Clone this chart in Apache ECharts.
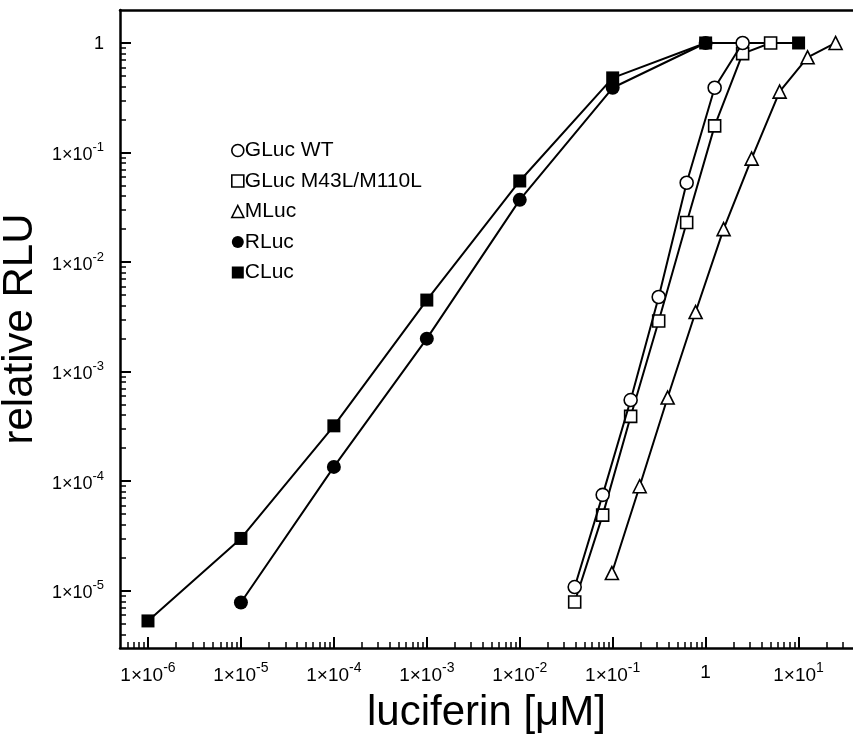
<!DOCTYPE html>
<html>
<head>
<meta charset="utf-8">
<script src="https://cdn.jsdelivr.net/npm/echarts@6/dist/echarts.min.js"></script>
<style>
  html, body { margin: 0; padding: 0; background: #fff; }
  #chart { width: 853px; height: 737px; }
</style>
</head>
<body>
<div id="chart"></div>
<script>
// axis extents (real units)
const X_MIN = 5e-7
const X_MAX = 38.5
const Y_MIN = 3e-6
const Y_MAX = 2

// major tick exponents
const xMajor = [-6, -5, -4, -3, -2, -1, 0, 1]
const yMajor = [-5, -4, -3, -2, -1, 0]

// GLuc WT (open circle)
const gwtX = [0.039, 0.078, 0.156, 0.3125, 0.625, 1.25, 2.5]
const gwtY = [1.08e-5, 7.5e-5, 5.5e-4, 4.8e-3, 5.3e-2, 0.39, 1.0]

// GLuc M43L/M110L (open square)
const gmutX = [0.039, 0.078, 0.156, 0.3125, 0.625, 1.25, 2.5, 5]
const gmutY = [7.9e-6, 4.9e-5, 3.9e-4, 2.9e-3, 2.3e-2, 0.175, 0.8, 1.0]

// MLuc (open triangle)
const mlucX = [0.098, 0.195, 0.39, 0.78, 1.56, 3.125, 6.25, 12.5, 25]
const mlucY = [1.45e-5, 9e-5, 5.8e-4, 3.5e-3, 2e-2, 8.8e-2, 0.36, 0.74, 1.0]

// RLuc (filled circle)
const rlucX = [1e-5, 1e-4, 1e-3, 1e-2, 1e-1, 1]
const rlucY = [7.8e-6, 1.35e-4, 2.0e-3, 3.7e-2, 0.39, 1.0]

// CLuc (filled square)
const clucX = [1e-6, 1e-5, 1e-4, 1e-3, 1e-2, 1e-1, 1, 10]
const clucY = [5.3e-6, 3.0e-5, 3.2e-4, 4.5e-3, 5.5e-2, 0.48, 1.0, 1.0]

const lg = Math.log10

function pairs(xs, ys) {
  return xs.map((x, i) => [lg(x), lg(ys[i])])
}

function minorTicks(lo, hi) {
  const out = []
  for (let n = Math.floor(lo) - 1; n <= Math.ceil(hi); n++) {
    for (let k = 2; k <= 9; k++) {
      const v = n + lg(k)
      if (v > lo && v < hi) out.push(v)
    }
  }
  return out
}

function powLabel(v) {
  if (v === 0) return '{b|1}'
  return '{b|1×10}{s|' + v + '}'
}

const FONT = 'Liberation Sans, Arial, sans-serif'

function richFor(base, sup) {
  return {
    b: { fontSize: base, lineHeight: base + 2, verticalAlign: 'bottom', color: '#000', fontFamily: FONT },
    s: { fontSize: sup, lineHeight: base + 5, verticalAlign: 'top', color: '#000', fontFamily: FONT },
  }
}

const xLo = lg(X_MIN), xHi = lg(X_MAX)
const yLo = lg(Y_MIN), yHi = lg(Y_MAX)

const openStyle = { color: '#fff', borderColor: '#000', borderWidth: 1.6 }
const fillStyle = { color: '#000', borderColor: '#000', borderWidth: 0 }
const lineStyle = { color: '#000', width: 2 }

const gridRect = { left: 120, right: 0, top: 10, bottom: 89, containLabel: false, outerBoundsMode: 'none' }

const chart = echarts.init(document.getElementById('chart'))

chart.setOption({
  animation: false,
  textStyle: { fontFamily: FONT, color: '#000' },
  grid: [
    Object.assign({}, gridRect),
    Object.assign({}, gridRect),
  ],
  legend: {
    orient: 'vertical',
    left: 231,
    top: 140,
    itemWidth: 12,
    itemHeight: 12,
    itemGap: 9.5,
    padding: 0,
    textStyle: { fontSize: 21, lineHeight: 21, color: '#000', padding: [0, 0, 0, -4] },
    data: [
      { name: 'GLuc WT', icon: 'circle', itemStyle: openStyle },
      { name: 'GLuc M43L/M110L', icon: 'rect', itemStyle: openStyle },
      { name: 'MLuc', icon: 'triangle', itemStyle: openStyle },
      { name: 'RLuc', icon: 'circle', itemStyle: fillStyle },
      { name: 'CLuc', icon: 'rect', itemStyle: fillStyle },
    ],
  },
  xAxis: [
    {
      type: 'value', gridIndex: 0, position: 'bottom', min: xLo, max: xHi,
      axisLine: { show: true, onZero: false, lineStyle: { color: '#000', width: 2.5 } },
      axisTick: { show: true, inside: true, length: 11, lineStyle: { color: '#000', width: 2 }, customValues: xMajor },
      axisLabel: { show: true, margin: 13, customValues: xMajor, formatter: powLabel, rich: richFor(19, 14) },
      splitLine: { show: false },
      name: 'luciferin [μM]', nameLocation: 'middle', nameGap: 44,
      nameTextStyle: { fontSize: 42, color: '#000' },
    },
    {
      type: 'value', gridIndex: 0, position: 'top', min: xLo, max: xHi,
      axisLine: { show: true, onZero: false, lineStyle: { color: '#000', width: 2.5 } },
      axisTick: { show: false }, axisLabel: { show: false }, splitLine: { show: false },
    },
    {
      type: 'value', gridIndex: 1, position: 'bottom', min: xLo, max: xHi,
      axisLine: { show: false, onZero: false },
      axisTick: { show: true, inside: true, length: 6, lineStyle: { color: '#000', width: 1.5 }, customValues: minorTicks(xLo, xHi) },
      axisLabel: { show: false }, splitLine: { show: false },
    },
  ],
  yAxis: [
    {
      type: 'value', gridIndex: 0, position: 'left', min: yLo, max: yHi,
      axisLine: { show: true, onZero: false, lineStyle: { color: '#000', width: 2.5 } },
      axisTick: { show: true, inside: true, length: 11, lineStyle: { color: '#000', width: 2 }, customValues: yMajor },
      axisLabel: { show: true, margin: 16, customValues: yMajor, formatter: powLabel, rich: richFor(18, 13) },
      splitLine: { show: false },
      name: 'relative RLU', nameLocation: 'middle', nameGap: 64, nameRotate: 90,
      nameTextStyle: { fontSize: 42, color: '#000' },
    },
    {
      type: 'value', gridIndex: 1, position: 'left', min: yLo, max: yHi,
      axisLine: { show: false, onZero: false },
      axisTick: { show: true, inside: true, length: 6, lineStyle: { color: '#000', width: 1.5 }, customValues: minorTicks(yLo, yHi) },
      axisLabel: { show: false }, splitLine: { show: false },
    },
  ],
  series: [
    {
      name: 'CLuc', type: 'line', xAxisIndex: 0, yAxisIndex: 0,
      data: pairs(clucX, clucY), symbol: 'rect', symbolSize: 13,
      itemStyle: fillStyle, lineStyle: lineStyle, z: 3,
    },
    {
      name: 'RLuc', type: 'line', xAxisIndex: 0, yAxisIndex: 0,
      data: pairs(rlucX, rlucY), symbol: 'circle', symbolSize: 14,
      itemStyle: fillStyle, lineStyle: lineStyle, z: 3,
    },
    {
      name: 'MLuc', type: 'line', xAxisIndex: 0, yAxisIndex: 0,
      data: pairs(mlucX, mlucY), symbol: 'triangle', symbolSize: 13,
      itemStyle: openStyle, lineStyle: lineStyle, z: 4,
    },
    {
      name: 'GLuc M43L/M110L', type: 'line', xAxisIndex: 0, yAxisIndex: 0,
      data: pairs(gmutX, gmutY), symbol: 'rect', symbolSize: 12,
      itemStyle: openStyle, lineStyle: lineStyle, z: 4,
    },
    {
      name: 'GLuc WT', type: 'line', xAxisIndex: 0, yAxisIndex: 0,
      data: pairs(gwtX, gwtY), symbol: 'circle', symbolSize: 13,
      itemStyle: openStyle, lineStyle: lineStyle, z: 5,
    },
  ],
})
</script>
</body>
</html>
